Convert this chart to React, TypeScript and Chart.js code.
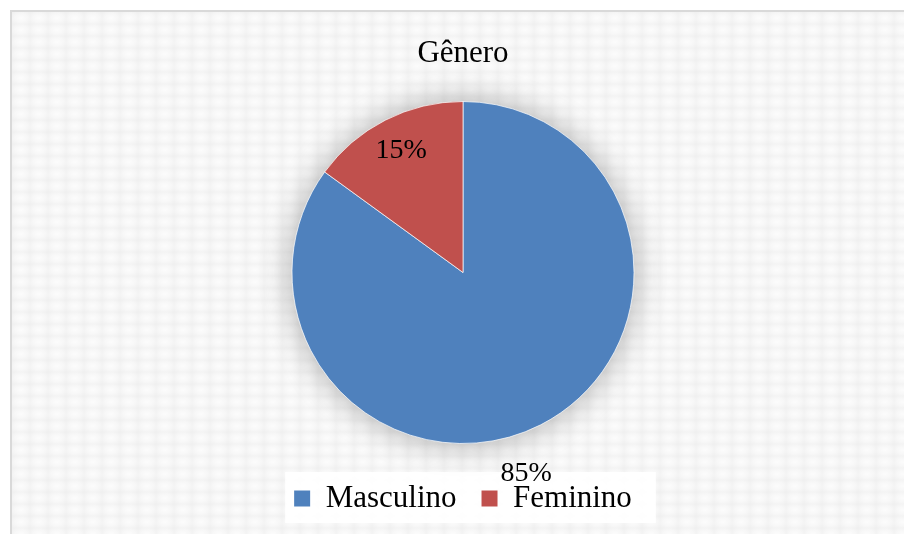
import React, { useEffect, useRef } from "react";
import { Chart, registerables } from "chart.js";

Chart.register(...registerables);

const chartTitle = "Gênero";
const categories = ["Masculino", "Feminino"];
const values = [85, 15];
const valueLabels = ["85%", "15%"];
const colors = ["#4F81BD", "#C0504D"];
// label placement (radius factor, angle shift in radians) – style only
const labelRadius = [1.235, 0.797];
const labelAngleShift = [0.167, 0];

const FONT = "'Liberation Serif', 'Times New Roman', serif";

export default function App() {
  const ref = useRef<HTMLCanvasElement | null>(null);

  useEffect(() => {
    if (!ref.current) return;

    const legendBg = {
      id: "legendBg",
      beforeDraw(chart: any) {
        const lg = chart.legend;
        if (!lg || !lg.legendHitBoxes || !lg.legendHitBoxes.length) return;
        const hb = lg.legendHitBoxes;
        const first = hb[0];
        const last = hb[hb.length - 1];
        const ctx = chart.ctx;
        ctx.save();
        ctx.fillStyle = "rgba(255,255,255,0.92)";
        const x0 = first.left - 9;
        const x1 = last.left + last.width + 24;
        const y0 = first.top - 11;
        const y1 = first.top + first.height + 9;
        ctx.fillRect(x0, y0, x1 - x0, y1 - y0);
        ctx.restore();
      },
    };

    const pieShadow = {
      id: "pieShadow",
      beforeDatasetsDraw(chart: any) {
        const meta = chart.getDatasetMeta(0);
        const arc = meta.data[0];
        if (!arc) return;
        const ctx = chart.ctx;
        ctx.save();
        ctx.shadowColor = "rgba(0,0,0,0.32)";
        ctx.shadowBlur = 32;
        ctx.fillStyle = "#cccccc";
        ctx.beginPath();
        ctx.arc(arc.x, arc.y, arc.outerRadius, 0, Math.PI * 2);
        ctx.fill();
        ctx.restore();
      },
    };

    const dataLabels = {
      id: "dataLabels",
      afterDatasetsDraw(chart: any) {
        const meta = chart.getDatasetMeta(0);
        const ctx = chart.ctx;
        ctx.save();
        ctx.font = `28px ${FONT}`;
        ctx.fillStyle = "#000";
        ctx.textAlign = "center";
        ctx.textBaseline = "middle";
        meta.data.forEach((arc: any, i: number) => {
          const mid = (arc.startAngle + arc.endAngle) / 2 + labelAngleShift[i];
          const d = arc.outerRadius * labelRadius[i];
          ctx.fillText(valueLabels[i], arc.x + Math.cos(mid) * d, arc.y + Math.sin(mid) * d);
        });
        ctx.restore();
      },
    };

    const chart = new Chart(ref.current, {
      type: "pie",
      data: {
        labels: categories,
        datasets: [
          {
            data: values,
            backgroundColor: colors,
            borderColor: "rgba(255,255,255,0.7)",
            borderWidth: 1,
            radius: 171,
          },
        ],
      },
      options: {
        animation: false,
        responsive: false,
        maintainAspectRatio: false,
        layout: { padding: { left: 22, right: 0, top: 0, bottom: 10 } },
        plugins: {
          tooltip: { enabled: false },
          title: {
            display: true,
            text: chartTitle,
            color: "#000",
            font: { family: FONT, size: 31, weight: "normal" },
            padding: { top: 34.9, bottom: 14.9 },
          },
          legend: {
            display: true,
            position: "bottom",
            labels: {
              color: "#000",
              font: { family: FONT, size: 31 },
              boxWidth: 16,
              boxHeight: 16,
              padding: 25,
              generateLabels(c: any) {
                const base = (Chart as any).overrides.pie.plugins.legend.labels.generateLabels(c);
                return base.map((l: any) => ({ ...l, lineWidth: 0, strokeStyle: "transparent" }));
              },
            },
          },
        },
      },
      plugins: [legendBg, pieShadow, dataLabels],
    });

    return () => chart.destroy();
  }, []);

  return (
    <div
      style={{
        position: "absolute",
        left: 0,
        top: 0,
        width: 904,
        height: 534,
        background: "#ffffff",
        overflow: "hidden",
      }}
    >
      <div
        style={{
          position: "absolute",
          left: 10,
          top: 10,
          width: 904,
          height: 534,
          borderTop: "2px solid #d9d9d9",
          borderLeft: "2px solid #d9d9d9",
          backgroundColor: "#f5f5f5",
          backgroundImage:
            "radial-gradient(ellipse at 50% 50%, #fcfcfc 0%, #f7f7f7 50%, #efefef 100%)",
          backgroundSize: "18px 12px",
        }}
      />
      <canvas
        ref={ref}
        width={904}
        height={534}
        style={{ position: "absolute", left: 0, top: 0, width: 904, height: 534 }}
      />
    </div>
  );
}
